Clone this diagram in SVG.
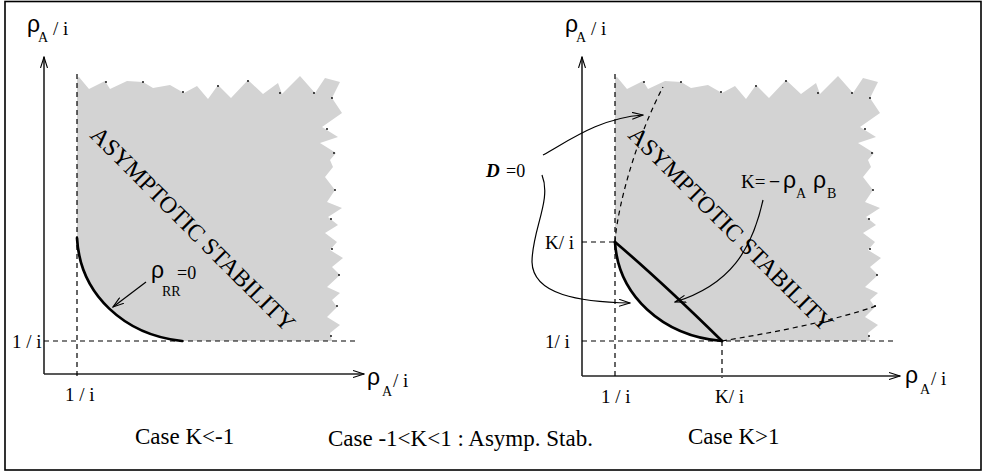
<svg xmlns="http://www.w3.org/2000/svg" width="984" height="473" viewBox="0 0 984 473">
<style>
.t{font-family:"Liberation Serif","Times New Roman",serif;fill:#000}
.g{font-family:"Liberation Sans",Arial,sans-serif;fill:#000}
.ax{stroke:#222;stroke-width:1.6;fill:none}
.ds{stroke:#000;stroke-width:1.2;stroke-dasharray:5,4;fill:none}
.th{stroke:#000;stroke-width:2.7;fill:none;stroke-linecap:round}
.ar{stroke:#000;stroke-width:1.2;fill:none}
.reg{fill:#d3d3d3;stroke:none}
.dot{fill:#000}
</style>
<defs>
<marker id="ah" viewBox="0 0 12 8" refX="11" refY="4" markerWidth="12" markerHeight="8" markerUnits="userSpaceOnUse" orient="auto">
<path d="M0,0.5 L11,4 L0,7.5" fill="none" stroke="#000" stroke-width="1.1"/>
</marker>
</defs>
<rect x="5" y="1.5" width="976" height="468.5" fill="#fff" stroke="#000" stroke-width="1.6"/>

<g id="left-panel">
<g id="left-region">
<path class="reg" d="M77,78 L79,77 L89,89 L105,81 L110,89 L127,81 L143,82 L153,88 L170,85 L184,93 L197,86 L208,99 L218,85 L231,98 L248,80 L263,94 L278,83 L282,94 L300,76 L315,93 L325,78 L340,82 L332,98 L342,113 L322,127 L338,137 L320,143 L336,153 L330,160 L333,167 L325,177 L335,190 L327,202 L342,208 L328,217 L338,225 L325,233 L337,242 L330,250 L343,258 L332,267 L340,275 L327,287 L340,293 L332,300 L337,307 L327,317 L340,325 L330,333 L332,341 L182,341 C125,335 80,295 77,238 Z"/>
<g class="dot">
<circle cx="106" cy="82" r="0.9"/><circle cx="143" cy="82" r="0.9"/><circle cx="183" cy="92" r="0.9"/><circle cx="218" cy="86" r="0.9"/><circle cx="248" cy="81" r="0.9"/><circle cx="280" cy="93" r="0.9"/><circle cx="314" cy="93" r="0.9"/><circle cx="332" cy="98" r="0.9"/><circle cx="327" cy="129" r="0.9"/><circle cx="334" cy="153" r="0.9"/><circle cx="335" cy="190" r="0.9"/><circle cx="331" cy="219" r="0.9"/><circle cx="332" cy="249" r="0.9"/><circle cx="339" cy="275" r="0.9"/><circle cx="337" cy="306" r="0.9"/><circle cx="331" cy="336" r="0.9"/>
</g>
</g>
<g id="left-axes">
<line class="ax" x1="44" y1="374" x2="44" y2="57" marker-end="url(#ah)"/>
<line class="ax" x1="44" y1="374" x2="364" y2="374" marker-end="url(#ah)"/>
<line class="ds" x1="77" y1="74" x2="77" y2="378"/>
<line class="ds" x1="44" y1="341" x2="357" y2="341"/>
</g>
<path class="th" d="M77,238 C80,295 125,335 182,341"/>
<g id="left-labels">
<text class="g" x="27" y="32" font-size="23">ρ</text><text class="t" x="38" y="42" font-size="14">A</text><text class="t" x="53" y="35" font-size="19">/ i</text>
<text class="g" x="367" y="385" font-size="23">ρ</text><text class="t" x="382" y="396" font-size="14">A</text><text class="t" x="393" y="387" font-size="19">/ i</text>
<text class="t" x="12" y="348" font-size="19">1 / i</text>
<text class="t" x="65" y="401" font-size="19">1 / i</text>
<text class="t" transform="translate(193,229) rotate(45)" x="0" y="8" font-size="24" text-anchor="middle" textLength="278" lengthAdjust="spacingAndGlyphs">ASYMPTOTIC STABILITY</text>
<text class="g" x="151" y="278" font-size="23">ρ</text><text class="t" x="162" y="296" font-size="14">RR</text><text class="t" x="177" y="279" font-size="18">=0</text>
</g>
</g>

<g id="right-panel">
<g id="right-region">
<path class="reg" d="M615,78 L617,77 L627,89 L643,81 L648,89 L665,81 L681,82 L691,88 L708,85 L722,93 L735,86 L746,99 L756,85 L769,98 L786,80 L801,94 L816,83 L820,94 L838,76 L853,93 L863,78 L878,82 L870,98 L880,113 L860,127 L876,137 L858,143 L874,153 L868,160 L871,167 L863,177 L873,190 L865,202 L880,208 L866,217 L876,225 L863,233 L875,242 L868,250 L881,258 L870,267 L878,275 L865,287 L878,293 L870,300 L875,307 L865,317 L878,325 L868,333 L870,341 L722,341 C662,336 618,295 615,242 Z"/>
<g class="dot">
<circle cx="644" cy="82" r="0.9"/><circle cx="681" cy="82" r="0.9"/><circle cx="721" cy="92" r="0.9"/><circle cx="756" cy="86" r="0.9"/><circle cx="786" cy="81" r="0.9"/><circle cx="818" cy="93" r="0.9"/><circle cx="852" cy="93" r="0.9"/><circle cx="870" cy="98" r="0.9"/><circle cx="865" cy="129" r="0.9"/><circle cx="872" cy="153" r="0.9"/><circle cx="873" cy="190" r="0.9"/><circle cx="869" cy="219" r="0.9"/><circle cx="870" cy="249" r="0.9"/><circle cx="877" cy="275" r="0.9"/><circle cx="875" cy="306" r="0.9"/><circle cx="869" cy="336" r="0.9"/>
</g>
</g>
<g id="right-axes">
<line class="ax" x1="582" y1="376" x2="582" y2="57" marker-end="url(#ah)"/>
<line class="ax" x1="582" y1="376" x2="900" y2="376" marker-end="url(#ah)"/>
<line class="ds" x1="615" y1="74" x2="615" y2="378"/>
<line class="ds" x1="722" y1="341" x2="722" y2="378"/>
<line class="ds" x1="582" y1="341" x2="894" y2="341"/>
<line class="ds" x1="582" y1="242" x2="615" y2="242"/>
<path class="ds" d="M615,242 C618,200 640,130 663,87"/>
<path class="ds" d="M722,341 C770,333 830,322 876,306"/>
</g>
<path class="th" d="M615,242 C618,295 662,336 722,341"/>
<path class="th" d="M615,242 Q662,282 722,341"/>
<g id="right-labels">
<text class="g" x="565" y="32" font-size="23">ρ</text><text class="t" x="576" y="42" font-size="14">A</text><text class="t" x="591" y="35" font-size="19">/ i</text>
<text class="g" x="905" y="383" font-size="23">ρ</text><text class="t" x="920" y="394" font-size="14">A</text><text class="t" x="931" y="385" font-size="19">/ i</text>
<text class="t" x="545" y="249" font-size="19">K/ i</text>
<text class="t" x="545" y="348" font-size="19">1/ i</text>
<text class="t" x="601" y="403" font-size="19">1 / i</text>
<text class="t" x="715" y="403" font-size="19">K/ i</text>
<text class="t" transform="translate(731,229) rotate(45)" x="0" y="8" font-size="24" text-anchor="middle" textLength="278" lengthAdjust="spacingAndGlyphs">ASYMPTOTIC STABILITY</text>
<text class="t" x="486" y="177" font-size="19" font-weight="bold" font-style="italic">D</text><text class="t" x="506" y="177" font-size="18">=0</text>
<text class="t" x="741" y="188" font-size="19">K=</text><text class="g" x="769" y="188" font-size="19">−</text><text class="g" x="783" y="188" font-size="23">ρ</text><text class="t" x="796" y="198" font-size="14">A</text><text class="g" x="813" y="188" font-size="23">ρ</text><text class="t" x="827" y="198" font-size="14">B</text>
</g>
</g>

<g id="connectors">
<line class="ar" x1="146" y1="282" x2="113" y2="307" marker-end="url(#ah)"/>
<path class="ar" d="M543,155 C570,140 600,118 643,115" marker-end="url(#ah)"/>
<path class="ar" d="M542,175 C552,200 532,230 532,262 C533,295 580,302 630,303" marker-end="url(#ah)"/>
<path class="ar" d="M763,200 C752,250 730,285 675,302" marker-end="url(#ah)"/>
</g>

<g id="captions">
<text class="t" x="135" y="444" font-size="23">Case K&lt;-1</text>
<text class="t" x="328" y="446" font-size="23">Case -1&lt;K&lt;1 : Asymp. Stab.</text>
<text class="t" x="688" y="444" font-size="23">Case K&gt;1</text>
</g>
</svg>
